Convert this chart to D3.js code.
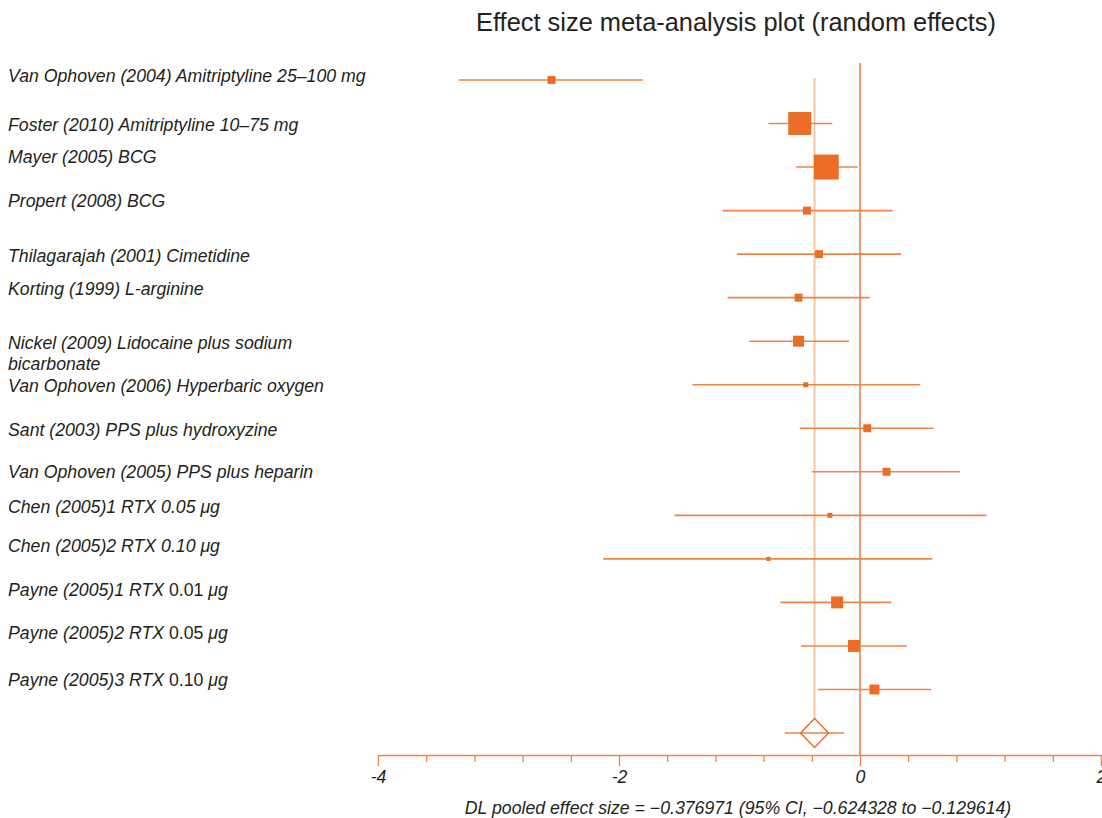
<!DOCTYPE html>
<html>
<head>
<meta charset="utf-8">
<script src="https://cdn.jsdelivr.net/npm/d3@7"></script>
<style>
  body { margin: 0; background: #fff; }
  text { font-family: "Liberation Sans", Arial, sans-serif; fill: #231f20; }
</style>
</head>
<body>
<div id="chart"></div>
<script>
// study labels, one entry per row (array of parts so some bits can be upright)
var studies = [
  [["Van Ophoven (2004) Amitriptyline 25\u2013100 mg", "i"]],
  [["Foster (2010) Amitriptyline 10\u201375 mg", "i"]],
  [["Mayer (2005) BCG", "i"]],
  [["Propert (2008) BCG", "i"]],
  [["Thilagarajah (2001) Cimetidine", "i"]],
  [["Korting (1999) L-arginine", "i"]],
  [["Nickel (2009) Lidocaine plus sodium", "i"], ["\nbicarbonate", "i"]],
  [["Van Ophoven (2006) Hyperbaric oxygen", "i"]],
  [["Sant (2003) PPS plus hydroxyzine", "i"]],
  [["Van Ophoven (2005) PPS plus heparin", "i"]],
  [["Chen (2005)1 RTX 0.05 \u03bcg", "i"]],
  [["Chen (2005)2 RTX 0.10 \u03bcg", "i"]],
  [["Payne (2005)1 RTX ", "i"], ["0.01 ", "n"], ["\u03bcg", "i"]],
  [["Payne (2005)2 RTX ", "i"], ["0.05 ", "n"], ["\u03bcg", "i"]],
  [["Payne (2005)3 RTX ", "i"], ["0.10 ", "n"], ["\u03bcg", "i"]]
];
var effect = [-2.56, -0.50, -0.28, -0.44, -0.34, -0.51, -0.51, -0.45, 0.06, 0.22, -0.25, -0.76, -0.19, -0.05, 0.12];
var lower  = [-3.33, -0.76, -0.53, -1.14, -1.02, -1.10, -0.92, -1.39, -0.50, -0.40, -1.54, -2.13, -0.66, -0.49, -0.35];
var upper  = [-1.80, -0.23, -0.02, 0.27, 0.34, 0.08, -0.09, 0.50, 0.61, 0.83, 1.05, 0.60, 0.26, 0.39, 0.59];
var weight = [3.0, 25.0, 29.6, 3.0, 3.0, 3.0, 5.7, 1.2, 3.0, 3.0, 1.2, 0.8, 6.8, 6.8, 4.7];

var pooled = -0.376971, pooledLo = -0.624328, pooledHi = -0.129614;
var xTicks = d3.range(-4, 2.0001, 0.4);
var xLabels = [-4, -2, 0, 2];

// label nudges (px) so the text sits where the original put it
var labelShift = [-5, 1, -11, -10, 1, -9, 1, 1, 1, 0, -9, -13, -13, -13, -10];

var width = 1102, height = 818;
var orange = "#eb6d27", orangeLine = "#ee8446", pale = "#f6c8a8";
var fs = "17.7px";

var svg = d3.select("#chart").append("svg")
  .attr("width", width).attr("height", height);

var x = d3.scaleLinear().domain([-4, 2]).range([378, 1101]);
var rows = d3.range(studies.length + 1);
var y = d3.scalePoint().domain(rows).range([80, 733]);
var side = d3.scaleSqrt().domain([0, d3.max(weight)]).range([0, 25]);
var axisY = 755;

svg.append("text")
  .attr("x", 736).attr("y", 31)
  .attr("text-anchor", "middle")
  .style("font-size", "25.4px")
  .text("Effect size meta-analysis plot (random effects)");

// zero line and pooled line
svg.append("line")
  .attr("x1", x(0)).attr("x2", x(0))
  .attr("y1", 63).attr("y2", axisY)
  .attr("stroke", orangeLine).attr("stroke-width", 1.6);

svg.append("line")
  .attr("x1", x(pooled)).attr("x2", x(pooled))
  .attr("y1", 78).attr("y2", y(studies.length) - 14)
  .attr("stroke", pale).attr("stroke-width", 2);

// labels
var lab = svg.append("g").selectAll("text")
  .data(studies).enter().append("text")
  .attr("x", 8)
  .attr("y", function (d, i) { return y(i) + labelShift[i] + 6.5; })
  .style("font-size", fs);

lab.each(function (parts) {
  var t = d3.select(this);
  parts.forEach(function (p) {
    var s = t.append("tspan").style("font-style", p[1] == "i" ? "italic" : "normal");
    if (p[0].charAt(0) == "\n") {
      s.attr("x", 8).attr("dy", 21).text(p[0].slice(1));
    } else {
      s.text(p[0]);
    }
  });
});

// CI lines
var g = svg.append("g");
g.selectAll("line.ci")
  .data(effect).enter().append("line")
  .attr("class", "ci")
  .attr("x1", function (d, i) { return x(lower[i]); })
  .attr("x2", function (d, i) { return x(upper[i]); })
  .attr("y1", function (d, i) { return y(i); })
  .attr("y2", function (d, i) { return y(i); })
  .attr("stroke", orangeLine).attr("stroke-width", 1.6);

g.selectAll("rect")
  .data(effect).enter().append("rect")
  .attr("x", function (d, i) { return x(d) - side(weight[i]) / 2; })
  .attr("y", function (d, i) { return y(i) - side(weight[i]) / 2; })
  .attr("width", function (d, i) { return side(weight[i]); })
  .attr("height", function (d, i) { return side(weight[i]); })
  .attr("fill", orange);

// pooled diamond
var py = y(studies.length);
svg.append("line")
  .attr("x1", x(pooledLo)).attr("x2", x(pooledHi))
  .attr("y1", py).attr("y2", py)
  .attr("stroke", orangeLine).attr("stroke-width", 1.6);
svg.append("path")
  .attr("d", "M" + (x(pooled) - 14) + "," + py + "L" + x(pooled) + "," + (py - 14.5) +
             "L" + (x(pooled) + 14) + "," + py + "L" + x(pooled) + "," + (py + 14.5) + "Z")
  .attr("fill", "none").attr("stroke", orange).attr("stroke-width", 1.5);

// axis
var ax = svg.append("g")
  .attr("transform", "translate(0," + axisY + ")")
  .call(d3.axisBottom(x).tickValues(xTicks).tickSizeOuter(0)
    .tickFormat(function (d) {
      var r = Math.round(d * 10) / 10;
      return xLabels.indexOf(r) >= 0 ? String(r) : "";
    }));
ax.select(".domain").attr("stroke", orangeLine).attr("stroke-width", 1.6);
ax.selectAll(".tick line")
  .attr("stroke", orangeLine).attr("stroke-width", 1.3)
  .attr("y2", function (d) {
    return xLabels.indexOf(Math.round(d * 10) / 10) >= 0 ? 11 : 7;
  });
ax.selectAll(".tick text")
  .attr("y", 15).attr("dy", "0.71em")
  .style("font-size", fs).style("font-style", "italic")
  .style("font-family", "'Liberation Sans', Arial, sans-serif")
  .attr("fill", "#231f20");

svg.append("text")
  .attr("x", 738).attr("y", 814)
  .attr("text-anchor", "middle")
  .style("font-size", fs).style("font-style", "italic")
  .text("DL pooled effect size = \u22120.376971 (95% CI, \u22120.624328 to \u22120.129614)");
</script>
</body>
</html>
